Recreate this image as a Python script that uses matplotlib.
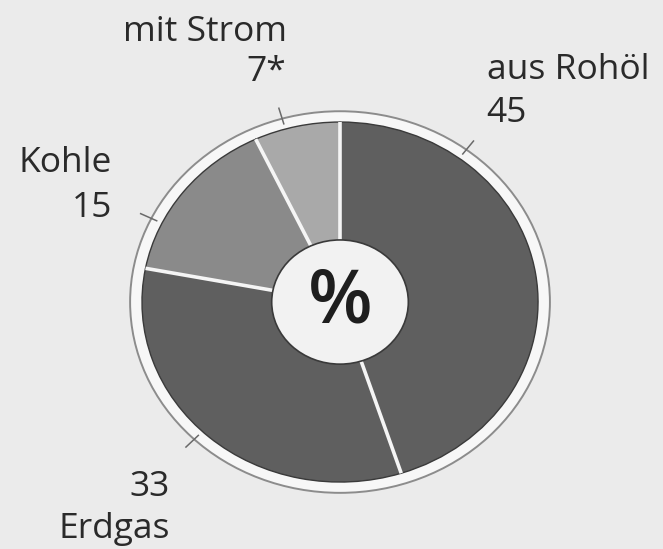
import numpy as np
import matplotlib
matplotlib.use("Agg")
import matplotlib.pyplot as plt
from matplotlib.patches import Circle

# Energieträger, Anteil in Prozent (im Uhrzeigersinn ab 12 Uhr)
labels = ["aus Rohöl", "Erdgas", "Kohle", "mit Strom"]
values = [45, 33, 15, 7]
value_text = ["45", "33", "15", "7*"]

colors = ["#5f5f5f", "#5f5f5f", "#8a8a8a", "#a9a9a9"]
BG = "#ebebeb"
INK = "#2a2a2a"
plt.rcParams["font.family"] = ["Open Sans", "DejaVu Sans"]

fig = plt.figure(figsize=(6.63, 5.49), dpi=100, facecolor=BG)
ax = fig.add_axes([0, 0, 1, 1])
ax.set_facecolor(BG)

# outer ring behind the wedges
ring = Circle((0, 0), 1.06, facecolor="#f7f7f7", edgecolor="#8c8c8c", lw=1.4, zorder=0)
ax.add_patch(ring)

wedges, _ = ax.pie(values, startangle=90, counterclock=False, radius=1.0, colors=colors,
                   wedgeprops=dict(edgecolor="#3a3a3a", linewidth=1.0))

# white separators between wedges
bounds = 90 - np.cumsum([0] + values[:-1]) / sum(values) * 360
for a in np.radians(bounds):
    ax.plot([0, np.cos(a)], [0, np.sin(a)], color="#f5f5f5", lw=2.6, zorder=3,
            solid_capstyle="butt")

# centre disc with the unit
ax.add_patch(Circle((0, 0), 0.345, facecolor="#f2f2f2", edgecolor="#3a3a3a", lw=1.2, zorder=4))
ax.text(0.0, -0.01, "%", ha="center", va="center", fontsize=54, color="#1e1e1e",
        fontweight="semibold", zorder=5)

# short leader ticks on the ring
tick_angles = [53, 226, 154, 106]
for t in np.radians(tick_angles):
    ax.plot([1.03 * np.cos(t), 1.12 * np.cos(t)], [1.03 * np.sin(t), 1.12 * np.sin(t)],
            color="#6a6a6a", lw=1.1, zorder=2)

fs = 25.5
ax.text(0.74, 1.29, labels[0], ha="left", va="center", fontsize=fs, color=INK)
ax.text(0.74, 1.05, value_text[0], ha="left", va="center", fontsize=fs, color=INK)
ax.text(-0.86, -1.03, value_text[1], ha="right", va="center", fontsize=fs, color=INK)
ax.text(-0.86, -1.26, labels[1], ha="right", va="center", fontsize=fs, color=INK)
ax.text(-1.15, 0.77, labels[2], ha="right", va="center", fontsize=fs, color=INK)
ax.text(-1.15, 0.52, value_text[2], ha="right", va="center", fontsize=fs, color=INK)
ax.text(-0.27, 1.50, labels[3], ha="right", va="center", fontsize=fs, color=INK)
ax.text(-0.27, 1.28, value_text[3], ha="right", va="center", fontsize=fs, color=INK)

# slightly squashed vertically, as printed
ax.set_aspect("auto")
ax.set_xlim(-1.717, 1.631)
ax.set_ylim(-1.372, 1.678)
ax.axis("off")

fig.savefig("out.png", dpi=100, facecolor=BG)
